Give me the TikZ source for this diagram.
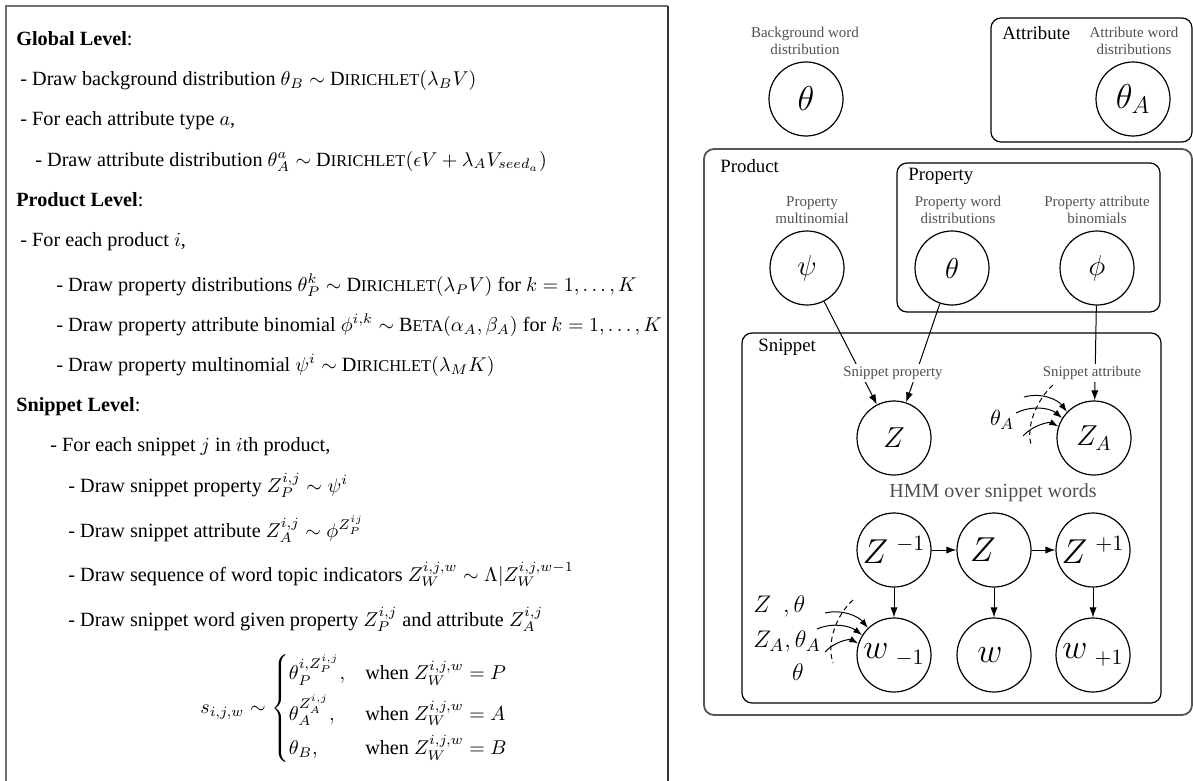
\documentclass[tikz,border=0pt]{standalone}
\usepackage{amsmath}
\usepackage{fontspec}
\setmainfont{Liberation Serif}
\usetikzlibrary{arrows.meta}

\definecolor{notegray}{HTML}{505050}
\definecolor{framegray}{HTML}{707070}
\definecolor{plategray}{HTML}{555555}

% small-caps look for distribution names
\newcommand{\fsc}[2]{#1{\fontsize{8.2}{8}\selectfont #2}}
\newcommand{\setfs}[1]{\fontsize{#1}{#1}\selectfont}

\begin{document}
\begin{tikzpicture}[x=0.5pt,y=-0.5pt,
  gen/.style={anchor=base west,inner sep=0pt,font=\setfs{10.1}},
  var/.style={circle,draw,line width=0.6pt,minimum size=37pt,inner sep=0pt},
  note/.style={text=notegray,align=center,inner sep=1pt,font=\fontsize{7.5}{8.6}\selectfont},
  tag/.style={note,fill=white,inner sep=1.2pt,font=\fontsize{7.4}{8}\selectfont},
  platename/.style={anchor=west,inner sep=0pt,font=\setfs{9.4}},
  plate/.style={draw,rounded corners=5pt,line width=0.6pt},
  edge/.style={-{Latex[length=5pt,width=3.6pt]},line width=0.5pt},
  feed/.style={-{Latex[length=4.5pt,width=3.2pt]},line width=0.5pt},
  cut/.style={dashed,dash pattern=on 2.5pt off 1.8pt,line width=0.5pt}]

\useasboundingbox (0,0) rectangle (1193,781);

% ---------------- generative story ----------------
\draw[framegray,line width=1pt] (6,790) -- (6,6) -- (668,6);
\draw[black!80,line width=0.7pt] (668,6) -- (668,790);

\node[gen] (g1)  at (16,46)  {\textbf{Global Level}:};
\node[gen] (g2)  at (20,86)  {- Draw background distribution $\theta_B \sim$ \fsc{D}{IRICHLET}$(\lambda_B V)$};
\node[gen] (g3)  at (20,126) {- For each attribute type $a$,};
\node[gen] (g4)  at (35,166) {- Draw attribute distribution $\theta^a_A \sim$ \fsc{D}{IRICHLET}$(\epsilon V + \lambda_A V_{seed_a})$};
\node[gen] (p1)  at (16,206) {\textbf{Product Level}:};
\node[gen] (p2)  at (20,246) {- For each product $i$,};
\node[gen] (p3)  at (56,291) {- Draw property distributions $\theta^k_P \sim$ \fsc{D}{IRICHLET}$(\lambda_P V)$ for $k=1,\ldots,K$};
\node[gen] (p4)  at (56,331) {- Draw property attribute binomial $\phi^{i,k} \sim$ \fsc{B}{ETA}$(\alpha_A,\beta_A)$ for $k=1,\ldots,K$};
\node[gen] (p5)  at (56,371) {- Draw property multinomial $\psi^i \sim$ \fsc{D}{IRICHLET}$(\lambda_M K)$};
\node[gen] (s1)  at (16,411) {\textbf{Snippet Level}:};
\node[gen] (s2)  at (50,451) {- For each snippet $j$ in $i$th product,};
\node[gen] (s3)  at (68,492) {- Draw snippet property $Z^{i,j}_P \sim \psi^i$};
\node[gen] (s4)  at (68,537) {- Draw snippet attribute $Z^{i,j}_A \sim \phi^{Z^{ij}_P}$};
\node[gen] (s5)  at (68,581) {- Draw sequence of word topic indicators $Z^{i,j,w}_W \sim \Lambda | Z^{i,j,w-1}_W$};
\node[gen] (s6)  at (68,626) {- Draw snippet word given property $Z^{i,j}_P$ and attribute $Z^{i,j}_A$};
\node[anchor=west,inner sep=0pt,font=\setfs{10.1}] (eqn) at (200,708)
  {$\displaystyle s_{i,j,w} \sim
    \begin{cases}
      \theta_P^{i,Z_P^{i,j}}, & \text{when } Z_W^{i,j,w} = P\\[4pt]
      \theta_A^{Z_A^{i,j}},   & \text{when } Z_W^{i,j,w} = A\\[4pt]
      \theta_B,               & \text{when } Z_W^{i,j,w} = B
    \end{cases}$};

% ---------------- plates ----------------
\draw[plate] (991,18) rectangle (1192,142);
\draw[plate,plategray,line width=0.9pt] (704,149) rectangle (1192,715);
\draw[plate] (897,163) rectangle (1160,312);
\draw[plate] (742,333) rectangle (1161,703);

\node[platename] (attrname) at (1002,33)  {Attribute};
\node[platename] (prodname) at (720,166)  {Product};
\node[platename] (propname) at (908,176)  {Property};
\node[platename] (snipname) at (758,347)  {Snippet};

% ---------------- annotations ----------------
\node[note] (bgnote)   at (805,41)  {Background word\\distribution};
\node[note] (atnote)   at (1134,41) {Attribute word\\distributions};
\node[note] (mnnote)   at (812,210) {Property\\multinomial};
\node[note] (pwnote)   at (958,210) {Property word\\distributions};
\node[note] (pbnote)   at (1097,210) {Property attribute\\binomials};
\node[note,font=\setfs{10}] (hmmnote) at (993,493) {HMM over snippet words};

% ---------------- variables ----------------
\node[var,font=\setfs{17.5}] (thB)  at (806,99)   {$\theta$};
\node[var,font=\setfs{17.5}] (thA)  at (1133,99)  {$\theta_A$};
\node[var,font=\setfs{14.5}] (psi)  at (807,268)  {$\psi$};
\node[var,font=\setfs{14.5}] (thP)  at (952,268)  {$\theta$};
\node[var,font=\setfs{14.5}] (phi)  at (1097,268) {$\phi$};
\node[var,font=\setfs{14}]   (Z)    at (894,438)  {$Z$};
\node[var,font=\setfs{14}]   (ZA)   at (1094,438) {$Z_A$};

\node[var,font=\setfs{16}] (Zm) at (894,550)  {$Z^{\ -1}$};
\node[var,font=\setfs{16}] (Zc) at (994,550)  {$Z\hspace{11pt}$};
\node[var,font=\setfs{16}] (Zp) at (1093,550) {$Z^{\ +1}$};
\node[var,font=\setfs{16}] (wm) at (894,655)  {$w_{\ -1}$};
\node[var,font=\setfs{16}] (wc) at (994,655)  {$w\hspace{4pt}$};
\node[var,font=\setfs{16}] (wp) at (1093,655) {$w_{\ +1}$};

% ---------------- dependencies ----------------
\draw[edge] (psi) -- (Z);
\draw[edge] (thP) -- (Z);
\draw[edge] (phi) -- (ZA);
\node[tag] (sptag) at (893,373)  {Snippet property};
\node[tag] (satag) at (1092,373) {Snippet attribute};

\draw[edge] (Zm) -- (Zc);
\draw[edge] (Zc) -- (Zp);
\draw[edge] (Zm) -- (wm);
\draw[edge] (Zc) -- (wc);
\draw[edge] (Zp) -- (wp);

% attribute distributions selected by the snippet attribute
\node[inner sep=0pt,font=\setfs{11}] (thAlab) at (1002,420) {$\theta_A$};
\coordinate (a1) at (1024,397);
\coordinate (a2) at (1016,413);
\coordinate (a3) at (1023,436);
\draw[feed] (a1) .. controls (1042,392) and (1058,400) .. (ZA.136);
\draw[feed] (a2) .. controls (1032,405) and (1050,408) .. (ZA.148);
\draw[feed] (a3) .. controls (1034,424) and (1050,422) .. (ZA.162);
\coordinate (ca) at (1053,385);
\coordinate (cb) at (1032,447);
\draw[cut] (ca) .. controls (1038,398) and (1024,428) .. (cb);

% word emission selected by the topic indicator
\node[anchor=west,inner sep=0pt,font=\setfs{12.5}] (lp) at (753,606) {$Z\hspace{6pt},\theta$};
\node[anchor=west,inner sep=0pt,font=\setfs{12.5}] (la) at (753,641) {$Z_A,\theta_A$};
\node[inner sep=0pt,font=\setfs{12.5}] (lb) at (798,672) {$\theta$};
\coordinate (b1) at (825,613);
\coordinate (b2) at (817,629);
\coordinate (b3) at (825,652);
\draw[feed] (b1) .. controls (842,609) and (858,616) .. (wm.134);
\draw[feed] (b2) .. controls (833,622) and (850,626) .. (wm.148);
\draw[feed] (b3) .. controls (835,641) and (850,639) .. (wm.162);
\coordinate (cc) at (853,600);
\coordinate (cd) at (833,663);
\draw[cut] (cc) .. controls (837,614) and (826,642) .. (cd);

\end{tikzpicture}
\end{document}
